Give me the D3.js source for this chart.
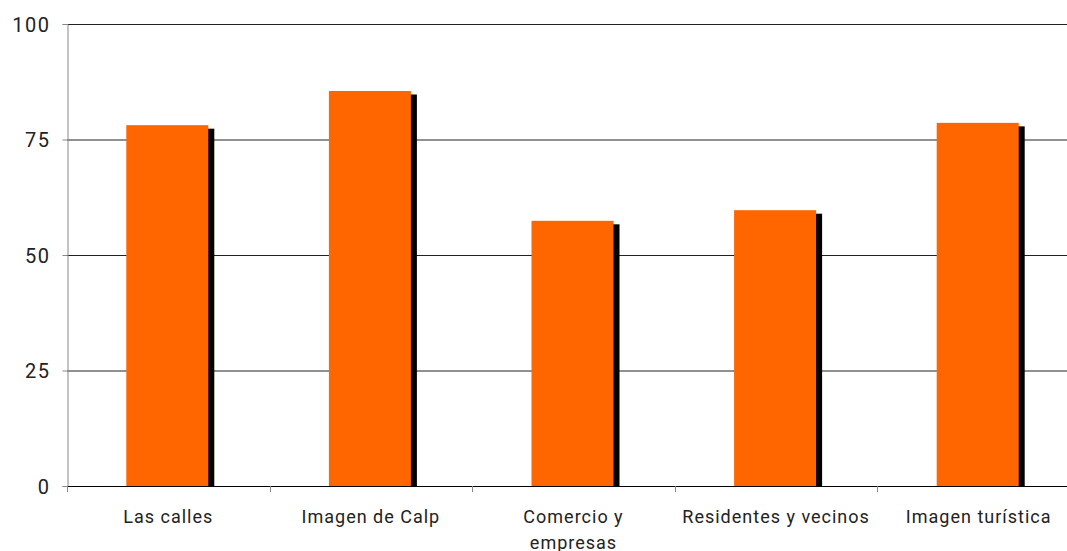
<!DOCTYPE html>
<html><head><meta charset="utf-8">
<script src="https://cdn.jsdelivr.net/npm/d3@7"></script>
<style>body{margin:0;background:#fff}svg{display:block}text{font-family:"Roboto","Liberation Sans",sans-serif;fill:#222}</style>
</head><body>
<svg id="c" width="1067" height="551"></svg>
<script>
const categories = ["Las calles","Imagen de Calp","Comercio y empresas","Residentes y vecinos","Imagen turística"];
const values = [78.1, 85.5, 57.4, 59.7, 78.6];
const yTicks = [0, 25, 50, 75, 100];

(function () {
const svg = d3.select("#c");
const mLeft = 67, mRight = 1080, mTop = 24, mBottom = 486;
const x = d3.scaleBand().domain(categories).range([mLeft, mRight]).paddingInner(0).paddingOuter(0);
const y = d3.scaleLinear().domain([0, 100]).range([mBottom, mTop]);

// gridlines
svg.append("g").selectAll("line").data(yTicks.filter(d => d > 0)).join("line")
  .attr("x1", mLeft).attr("x2", 1067).attr("y1", d => y(d) + 0.5).attr("y2", d => y(d) + 0.5)
  .attr("stroke", "#222").attr("stroke-width", 1);

const bw = 82;
const g = svg.append("g");
g.selectAll("rect.s").data(categories).join("rect").attr("class", "s")
  .attr("x", (d, i) => x(d) + x.bandwidth() / 2 - bw / 2 - 1 + 6)
  .attr("y", (d, i) => y(values[i]) + 3.5)
  .attr("width", bw).attr("height", (d, i) => mBottom - y(values[i]) - 3.5)
  .attr("fill", "#000");
g.selectAll("rect.b").data(categories).join("rect").attr("class", "b")
  .attr("x", (d, i) => x(d) + x.bandwidth() / 2 - bw / 2 - 1)
  .attr("y", (d, i) => y(values[i]))
  .attr("width", bw).attr("height", (d, i) => mBottom - y(values[i]))
  .attr("fill", "#ff6600");

// y axis
const ya = svg.append("g").attr("transform", `translate(${mLeft + 0.5},0)`)
  .call(d3.axisLeft(y).tickValues(yTicks).tickSize(5).tickPadding(12));
ya.select(".domain").attr("stroke", "#888");
ya.selectAll(".tick line").attr("stroke", "#888");
ya.selectAll("text").attr("font-size", 20).attr("letter-spacing", "1.5px").attr("dy", "0.36em").style("fill", "#222");

// x axis
svg.append("line").attr("x1", mLeft).attr("x2", 1067).attr("y1", mBottom + 0.5).attr("y2", mBottom + 0.5).attr("stroke", "#000");
svg.append("g").selectAll("line").data(d3.range(categories.length + 1)).join("line")
  .attr("x1", i => Math.round(mLeft + i * x.step()) + 0.5).attr("x2", i => Math.round(mLeft + i * x.step()) + 0.5)
  .attr("y1", mBottom).attr("y2", mBottom + 6).attr("stroke", "#888");

const labels = svg.append("g").selectAll("text").data(categories).join("text")
  .attr("x", d => x(d) + x.bandwidth() / 2)
  .attr("y", 523).attr("text-anchor", "middle").attr("font-size", 18).attr("letter-spacing", "1px");
labels.each(function (d) {
  const t = d3.select(this);
  if (d === "Comercio y empresas") {
    t.append("tspan").attr("x", t.attr("x")).attr("dy", 0).text("Comercio y");
    t.append("tspan").attr("x", t.attr("x")).attr("dy", 26).text("empresas");
  } else t.text(d);
});
})();
</script>
</body></html>
